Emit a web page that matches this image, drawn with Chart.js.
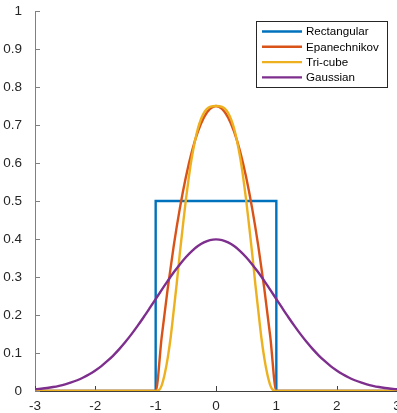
<!DOCTYPE html>
<html>
<head>
<meta charset="utf-8">
<script src="https://cdn.jsdelivr.net/npm/chart.js@4/dist/chart.umd.min.js"></script>
<style>
  html, body { margin: 0; padding: 0; background: #ffffff; }
  #wrap { position: relative; width: 397px; height: 413px; }
</style>
</head>
<body>
<div id="wrap"><canvas id="c" width="397" height="413"></canvas></div>
<script>
// ---- data ----
const seriesNames = ["Rectangular", "Epanechnikov", "Tri-cube", "Gaussian"];
const seriesColors = ["#0072BD", "#D95319", "#EDB120", "#7E2F8E"];

const xTicks = [-3, -2, -1, 0, 1, 2, 3];
const yTicks = [0, 0.1, 0.2, 0.3, 0.4, 0.5, 0.6, 0.7, 0.8, 0.9, 1];

const rectX = [-3, -1, -1, 1, 1, 3];
const rectY = [0, 0, 0.5, 0.5, 0, 0];

const kernX = [-3, -1, -0.9, -0.8, -0.7, -0.6, -0.5, -0.4, -0.3, -0.2, -0.1, 0,
               0.1, 0.2, 0.3, 0.4, 0.5, 0.6, 0.7, 0.8, 0.9, 1, 3];
const epanY = [0, 0, 0.1425, 0.27, 0.3825, 0.48, 0.5625, 0.63, 0.6825, 0.72, 0.7425, 0.75,
               0.7425, 0.72, 0.6825, 0.63, 0.5625, 0.48, 0.3825, 0.27, 0.1425, 0, 0];
const tricX = [-3, -1, -0.95, -0.9, -0.85, -0.8, -0.75, -0.7, -0.65, -0.6, -0.55, -0.5, -0.45, -0.4, -0.3, -0.2, -0.1, 0,
               0.1, 0.2, 0.3, 0.4, 0.45, 0.5, 0.55, 0.6, 0.65, 0.7, 0.75, 0.8, 0.85, 0.9, 0.95, 1, 3];
const tricY = [0, 0, 0.0016, 0.0149, 0.0445, 0.0872, 0.1427, 0.2127, 0.2842, 0.3614, 0.4331, 0.5024, 0.5630, 0.6150, 0.6909, 0.7322, 0.7478, 0.75,
               0.7478, 0.7322, 0.6909, 0.6150, 0.5630, 0.5024, 0.4331, 0.3614, 0.2842, 0.2127, 0.1427, 0.0872, 0.0445, 0.0149, 0.0016, 0, 0];

const gaussX = [-3, -2.9, -2.8, -2.7, -2.6, -2.5, -2.4, -2.3, -2.2, -2.1, -2, -1.9, -1.8, -1.7, -1.6, -1.5, -1.4, -1.3, -1.2, -1.1, -1,
                -0.9, -0.8, -0.7, -0.6, -0.5, -0.4, -0.3, -0.2, -0.1, 0, 0.1, 0.2, 0.3, 0.4, 0.5, 0.6, 0.7, 0.8, 0.9,
                1, 1.1, 1.2, 1.3, 1.4, 1.5, 1.6, 1.7, 1.8, 1.9, 2, 2.1, 2.2, 2.3, 2.4, 2.5, 2.6, 2.7, 2.8, 2.9, 3];
const gaussY = [0.0044, 0.0060, 0.0079, 0.0104, 0.0136, 0.0175, 0.0224, 0.0283, 0.0355, 0.0440, 0.0540, 0.0656, 0.0790, 0.0940, 0.1109, 0.1295, 0.1497, 0.1714, 0.1942, 0.2179, 0.2420,
                0.2661, 0.2897, 0.3123, 0.3332, 0.3521, 0.3683, 0.3814, 0.3910, 0.3970, 0.3989, 0.3970, 0.3910, 0.3814, 0.3683, 0.3521, 0.3332, 0.3123, 0.2897, 0.2661,
                0.2420, 0.2179, 0.1942, 0.1714, 0.1497, 0.1295, 0.1109, 0.0940, 0.0790, 0.0656, 0.0540, 0.0440, 0.0355, 0.0283, 0.0224, 0.0175, 0.0136, 0.0104, 0.0079, 0.0060, 0.0044];

function pts(xs, ys) { return xs.map((x, i) => ({ x: x, y: ys[i] })); }

const FONT = '"Liberation Sans", Arial, Helvetica, sans-serif';

const inwardTicks = {
  id: 'inwardTicks',
  beforeDatasetsDraw(chart) {
    const ctx = chart.ctx;
    const xs = chart.scales.x, ys = chart.scales.y;
    const area = chart.chartArea;
    ctx.save();
    ctx.strokeStyle = '#404040';
    ctx.lineWidth = 1;
    ctx.beginPath();
    xTicks.forEach(v => {
      const px = Math.round(xs.getPixelForValue(v)) + 0.5;
      ctx.moveTo(px, area.bottom);
      ctx.lineTo(px, area.bottom - 5);
    });
    ctx.stroke();
    ctx.strokeStyle = '#808080';
    ctx.beginPath();
    yTicks.forEach(v => {
      const py = Math.round(ys.getPixelForValue(v)) + 0.5;
      ctx.moveTo(area.left, py);
      ctx.lineTo(area.left + 5, py);
    });
    ctx.stroke();
    ctx.restore();
  }
};

const boxLegend = {
  id: 'boxLegend',
  afterDraw(chart) {
    const ctx = chart.ctx;
    ctx.save();
    const L = 256, T = 21, R = 387, B = 87;
    ctx.fillStyle = '#ffffff';
    ctx.fillRect(L, T, R - L, B - T);
    ctx.strokeStyle = '#262626';
    ctx.lineWidth = 1;
    ctx.strokeRect(L + 0.5, T + 0.5, R - L, B - T);
    const rows = [31.5, 46.8, 62.1, 77.4];
    ctx.font = '11.6px ' + FONT;
    ctx.textBaseline = 'middle';
    ctx.textAlign = 'left';
    seriesNames.forEach((name, i) => {
      ctx.strokeStyle = seriesColors[i];
      ctx.lineWidth = 2.4;
      ctx.beginPath();
      ctx.moveTo(262, rows[i]);
      ctx.lineTo(302, rows[i]);
      ctx.stroke();
      ctx.fillStyle = '#000000';
      ctx.fillText(name, 306, rows[i] + 0.5);
    });
    ctx.restore();
  }
};

const common = { fill: false, pointRadius: 0, borderWidth: 2.4, tension: 0 };

new Chart(document.getElementById('c'), {
  type: 'line',
  data: {
    datasets: [
      Object.assign({ label: seriesNames[0], data: pts(rectX, rectY), borderColor: seriesColors[0], order: 4 }, common),
      Object.assign({ label: seriesNames[1], data: pts(kernX, epanY), borderColor: seriesColors[1], order: 3 }, common, { cubicInterpolationMode: 'monotone' }),
      Object.assign({ label: seriesNames[2], data: pts(tricX, tricY), borderColor: seriesColors[2], order: 2 }, common, { cubicInterpolationMode: 'monotone' }),
      Object.assign({ label: seriesNames[3], data: pts(gaussX, gaussY), borderColor: seriesColors[3], order: 1 }, common, { cubicInterpolationMode: 'monotone' })
    ]
  },
  options: {
    responsive: false,
    animation: false,
    events: [],
    layout: { padding: { top: 11, right: 0, left: 0, bottom: 0 } },
    plugins: { legend: { display: false }, tooltip: { enabled: false } },
    scales: {
      x: {
        type: 'linear', min: -3, max: 3,
        afterBuildTicks(s) { s.ticks = xTicks.map(v => ({ value: v })); },
        afterFit(s) { s.height = 22; s.paddingLeft = 0; s.paddingRight = 0; },
        grid: { display: false, drawTicks: false },
        border: { display: true, color: '#404040', width: 1 },
        ticks: { color: '#262626', font: { family: FONT, size: 13.5 }, padding: 7, maxRotation: 0, autoSkip: false,
                 callback: v => String(v) }
      },
      y: {
        type: 'linear', min: 0, max: 1,
        afterBuildTicks(s) { s.ticks = yTicks.map(v => ({ value: v })); },
        afterFit(s) { s.width = 35; s.paddingTop = 0; s.paddingBottom = 0; },
        grid: { display: false },
        border: { display: true, color: '#808080', width: 1 },
        ticks: { color: '#262626', font: { family: FONT, size: 13.5 }, padding: 5, autoSkip: false,
                 callback: v => String(v) }
      }
    }
  },
  plugins: [inwardTicks, boxLegend]
});
</script>
</body>
</html>
